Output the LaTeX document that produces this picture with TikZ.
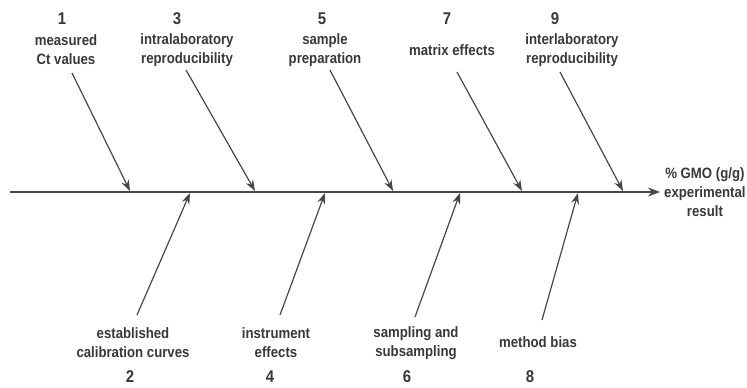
\documentclass[tikz,border=0pt]{standalone}
\usepackage{fontspec}
\setmainfont{Liberation Sans}[FakeStretch=0.88]
\usetikzlibrary{arrows.meta,positioning}

\begin{document}
\begin{tikzpicture}[x=1pt, y=-1pt,
  lab/.style={font=\fontsize{15}{19}\selectfont\bfseries, align=center,
              inner sep=0pt, text=black!78},
  num/.style={font=\fontsize{17}{19}\selectfont\bfseries, inner sep=0pt, text=black!78},
  bone/.style={-{Stealth[length=11pt, width=8pt]}, line width=1.2pt, draw=black!72},
  spine/.style={-{Stealth[length=12pt, width=9pt]}, line width=1.4pt, draw=black!72},
]
\useasboundingbox (0,0) rectangle (747,388);
% main spine and the result
\coordinate (tail) at (10,192);
\coordinate (tip) at (660,192);
\draw[spine] (tail) -- (tip);
\node[lab, right=4pt of tip] (res) {\% GMO (g/g)\\experimental\\result};
% upper causes
\node[num] (n1) at (62,19) {1};
\node[lab] (c1) at (66,50) {measured\\Ct values};
\node[num] (n3) at (177,19) {3};
\node[lab] (c3) at (187,50) {intralaboratory\\reproducibility};
\node[num] (n5) at (322,19) {5};
\node[lab] (c5) at (325,50) {sample\\preparation};
\node[num] (n7) at (447,19) {7};
\node[lab] (c7) at (452,50) {matrix effects};
\node[num] (n9) at (555,19) {9};
\node[lab] (c9) at (572,50) {interlaboratory\\reproducibility};
% lower causes
\node[lab] (c2) at (133,343) {established\\calibration curves};
\node[num] (n2) at (130,377) {2};
\node[lab] (c4) at (276,343) {instrument\\effects};
\node[num] (n4) at (270,377) {4};
\node[lab] (c6) at (416,343) {sampling and\\subsampling};
\node[num] (n6) at (407,377) {6};
\node[lab] (c8) at (538,342) {method bias};
\node[num] (n8) at (530,377) {8};
% bone start and end points
\coordinate (t1) at (72,73);   \coordinate (h1) at (130,191);
\coordinate (t3) at (186,70);  \coordinate (h3) at (255,191);
\coordinate (t5) at (330,70);  \coordinate (h5) at (393,191);
\coordinate (t7) at (457,72);  \coordinate (h7) at (522,191);
\coordinate (t9) at (560,72);  \coordinate (h9) at (623,191);
\coordinate (t2) at (137,315); \coordinate (h2) at (190,193);
\coordinate (t4) at (280,315); \coordinate (h4) at (325,193);
\coordinate (t6) at (415,317); \coordinate (h6) at (460,193);
\coordinate (t8) at (542,320); \coordinate (h8) at (578,193);
\foreach \i in {1,...,9}
  \draw[bone] (t\i) -- (h\i);
\end{tikzpicture}
\end{document}
